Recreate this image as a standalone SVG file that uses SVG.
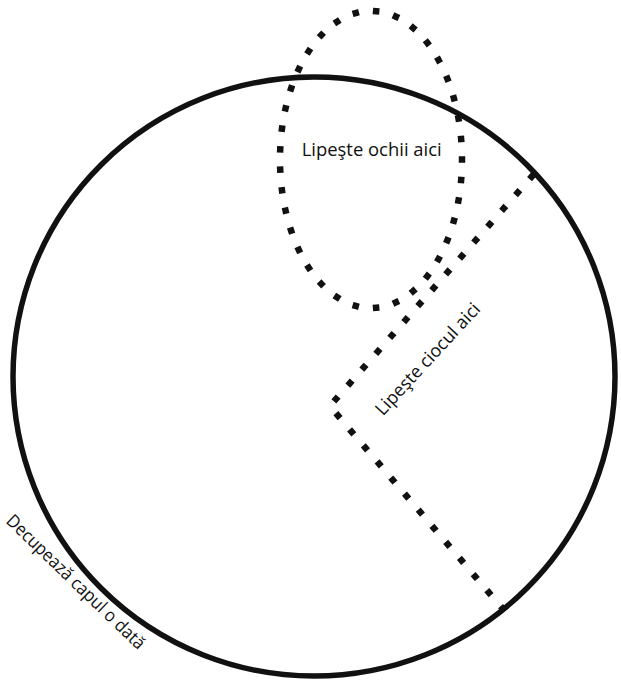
<svg xmlns="http://www.w3.org/2000/svg" width="621" height="682" viewBox="0 0 621 682">
<style>
.head{fill:none;stroke:#111;stroke-width:5.5}
.dots{fill:none;stroke:#111;stroke-width:6.5;stroke-linecap:square;stroke-dasharray:0.001 0.999}
.lbl{font-family:"Open Sans","Liberation Sans",sans-serif;font-size:18px;fill:#111}
</style>
<rect width="621" height="682" fill="#fff"/>
<g id="head">
<ellipse class="head" cx="314" cy="376.5" rx="301" ry="299.5"/>
</g>
<g id="eyes">
<ellipse class="dots" cx="371" cy="159.5" rx="91" ry="148.5" pathLength="37"/>
</g>
<g id="beak">
<line class="dots" x1="531.7" y1="176.7" x2="336" y2="399" pathLength="14.002"/>
<line class="dots" x1="338" y1="415.7" x2="502.7" y2="608.7" pathLength="12.002"/>
</g>
<g id="labels">
<text class="lbl" x="301.7" y="155.7" textLength="140" lengthAdjust="spacingAndGlyphs">Lipeşte ochii aici</text>
<text class="lbl" transform="translate(383,416.5) rotate(-47.3)" x="0" y="0" font-size="17.5" textLength="145" lengthAdjust="spacingAndGlyphs">Lipeşte ciocul aici</text>
<text class="lbl" transform="translate(5,522) rotate(44)" x="0" y="0" font-size="17.5" textLength="185" lengthAdjust="spacingAndGlyphs">Decupează capul o dată</text>
</g>
</svg>
